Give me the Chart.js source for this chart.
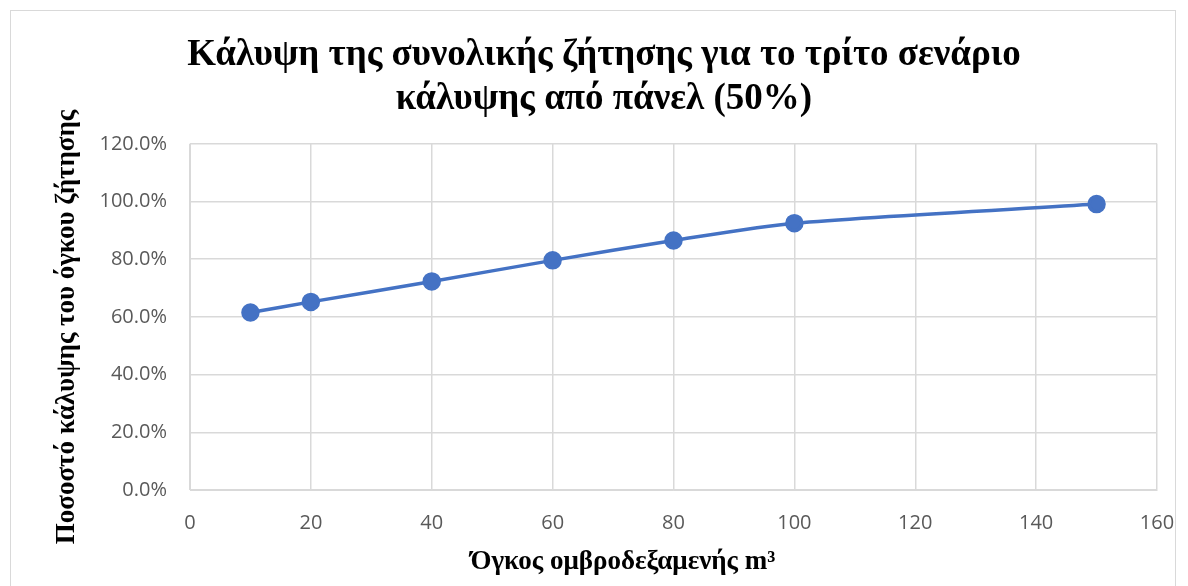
<!DOCTYPE html>
<html>
<head>
<meta charset="utf-8">
<script src="https://cdn.jsdelivr.net/npm/chart.js@4"></script>
<style>
    body { margin: 0; background: #fff; }
    #frame { position: absolute; left: 10px; top: 10px; width: 1166px; height: 580px; border: 1px solid #d9d9d9; box-sizing: border-box; }
    #wrap { position: absolute; left: 0; top: 0; width: 1188px; height: 586px; }
</style>
</head>
<body>
<div id="frame"></div>
<div id="wrap"><canvas id="coverChart"></canvas></div>
<script>
// Data
const volumes = [10, 20, 40, 60, 80, 100, 150];
const coverage = [0.615, 0.652, 0.723, 0.796, 0.865, 0.925, 0.991];
const titleLines = ['Κάλυψη της συνολικής ζήτησης για το τρίτο σενάριο', 'κάλυψης από πάνελ (50%)'];
const xTitle = 'Όγκος ομβροδεξαμενής m³';
const yTitle = 'Ποσοστό κάλυψης του όγκου ζήτησης';

const serif = "'Liberation Serif', 'DejaVu Serif', serif";
const sans = "'Open Sans', 'Liberation Sans', sans-serif";

// the axis titles sit a bit off-centre in the original, trailing spaces nudge them
const xTitleShift = ' '.repeat(15);
const yTitleShift = ' '.repeat(3);

let coverChart = new Chart(document.getElementById('coverChart').getContext('2d'), {
    type: 'scatter',
    data: {
        datasets: [{
            label: 'Κάλυψη',
            data: volumes.map((v, i) => ({ x: v, y: coverage[i] })),
            showLine: true,
            borderColor: '#4472c4',
            backgroundColor: '#4472c4',
            borderWidth: 3.5,
            pointRadius: 7.5,
            pointHoverRadius: 7.5,
            tension: 0.25,
        }]
    },
    options: {
        responsive: true,
        maintainAspectRatio: false,
        animation: false,
        layout: { padding: { left: 51, right: 31, top: 20, bottom: 8 } },
        plugins: {
            legend: { display: false },
            tooltip: { enabled: false },
            title: {
                display: true,
                text: titleLines,
                color: '#000',
                font: { family: serif, size: 37, weight: 'bold', lineHeight: 1.2 },
                padding: { top: 13, bottom: 22 },
            }
        },
        scales: {
            x: {
                type: 'linear',
                min: 0,
                max: 160,
                ticks: { stepSize: 20, color: '#595959', font: { family: sans, size: 20 }, padding: 21 },
                grid: { color: '#d9d9d9', lineWidth: 1.5, drawTicks: false },
                border: { color: '#d9d9d9' },
                title: {
                    display: true,
                    text: xTitle + xTitleShift,
                    color: '#000',
                    font: { family: serif, size: 27, weight: 'bold' },
                    padding: { top: 13, bottom: 0 },
                },
                afterFit: axis => {
                    axis.height = 88;
                    axis.paddingRight = 0;
                }
            },
            y: {
                min: 0,
                max: 1.2,
                ticks: {
                    stepSize: 0.2,
                    color: '#595959',
                    font: { family: sans, size: 20 },
                    padding: 23,
                    callback: v => (v * 100).toFixed(1) + '%'
                },
                grid: { color: '#d9d9d9', lineWidth: 1.5, drawTicks: false },
                border: { color: '#d9d9d9' },
                title: {
                    display: true,
                    text: yTitle + yTitleShift,
                    color: '#000',
                    font: { family: serif, size: 27, weight: 'bold' },
                    padding: { top: 0, bottom: 0 },
                },
                afterFit: axis => { axis.width = 139; }
            }
        }
    }
});
</script>
</body>
</html>
